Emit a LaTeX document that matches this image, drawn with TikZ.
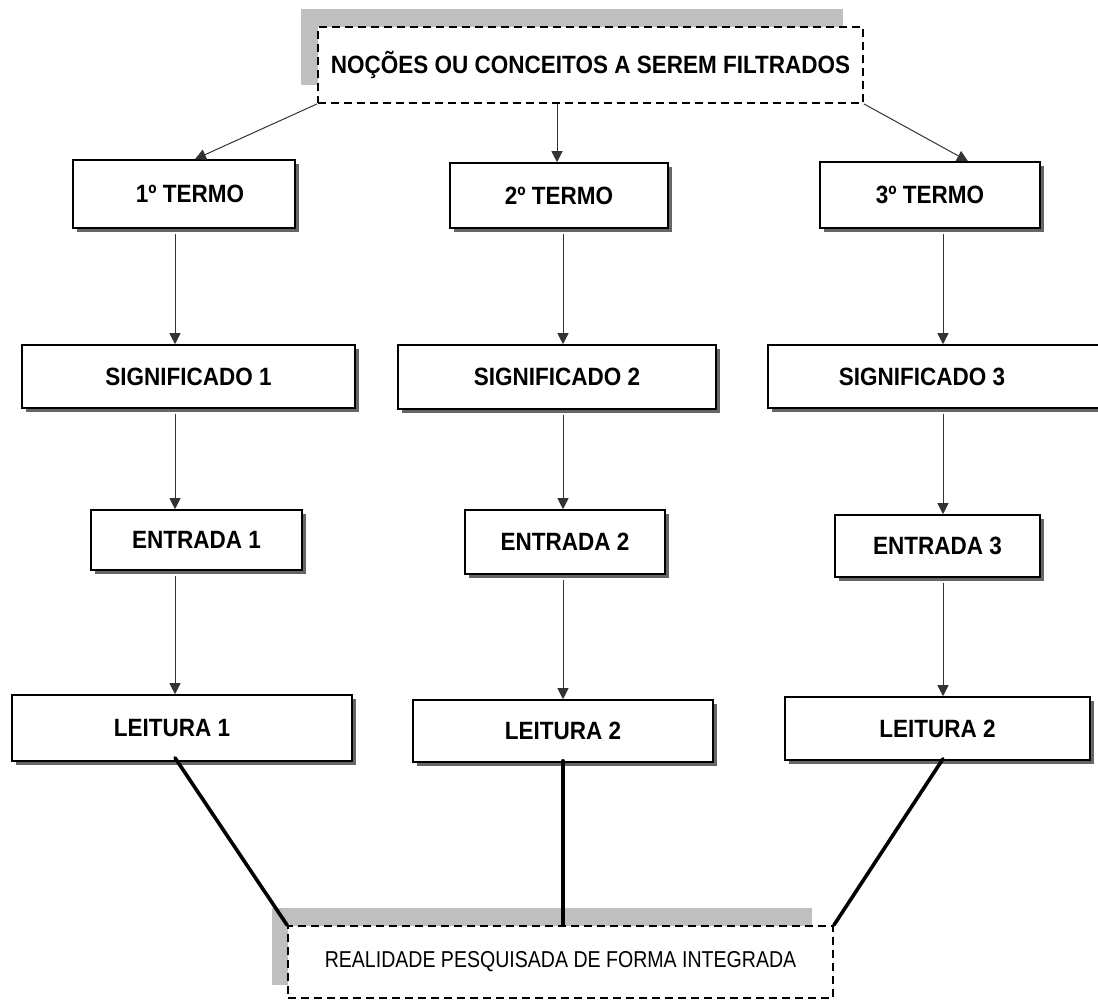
\documentclass[tikz,border=0pt]{standalone}
\usepackage{fontspec}
\setmainfont{Liberation Sans}
\newfontfamily\labelfont[FakeStretch=0.9]{Liberation Sans}
\newfontfamily\footfont[FakeStretch=0.85]{Liberation Sans}
\usetikzlibrary{arrows.meta,shadows}
\begin{document}
\begin{tikzpicture}[x=1pt,y=-1pt,
  box/.style={draw, line width=1.6pt, fill=white, inner sep=0pt,
    font=\labelfont\bfseries\fontsize{25}{28}\selectfont,
    drop shadow={shadow xshift=4pt, shadow yshift=-4pt, fill=black!60, opacity=1}},
  dbox/.style={draw, line width=1.8pt, fill=white, inner sep=0pt,
    dash pattern=on 8pt off 5pt},
  shade/.style={fill=black!25, draw=none},
  arr/.style={-{Triangle[length=11pt,width=11pt]}, line width=1pt, black!80},
  link/.style={line width=3.6pt, line cap=round}]
\useasboundingbox (0,0) rectangle (1098,1002);

% gray backing strips behind the dashed boxes
\fill[shade] (301,9) rectangle (843,85);
\fill[shade] (272,908) rectangle (812,985);

% dashed header and footer boxes
\node[dbox, minimum width=545pt, minimum height=76pt,
  font=\labelfont\bfseries\fontsize{25}{28}\selectfont] (top) at (590.5,65)
  {NOÇÕES OU CONCEITOS A SEREM FILTRADOS};
\node[dbox, minimum width=545pt, minimum height=72pt,
  font=\footfont\fontsize{23}{26}\selectfont] (bot) at (560.5,962)
  {REALIDADE PESQUISADA DE FORMA INTEGRADA};

% terms
\node[box, minimum width=222pt, minimum height=68pt] (t1) at (184,194) {\hspace*{12pt}1º TERMO};
\node[box, minimum width=218pt, minimum height=65pt] (t2) at (559,195.5) {2º TERMO};
\node[box, minimum width=220pt, minimum height=66pt] (t3) at (930,195) {3º TERMO};

% meanings
\node[box, minimum width=333pt, minimum height=63pt] (s1) at (188.5,376.5) {SIGNIFICADO 1};
\node[box, minimum width=318pt, minimum height=64pt] (s2) at (557,377) {SIGNIFICADO 2};
\node[box, minimum width=336pt, minimum height=63pt] (s3) at (936,376.5) {\hspace*{-28pt}SIGNIFICADO 3};

% entries
\node[box, minimum width=211pt, minimum height=60pt] (e1) at (196.5,540) {ENTRADA 1};
\node[box, minimum width=200pt, minimum height=64pt] (e2) at (565,542) {ENTRADA 2};
\node[box, minimum width=205pt, minimum height=62pt] (e3) at (937.5,546) {ENTRADA 3};

% readings
\node[box, minimum width=340pt, minimum height=66pt] (r1) at (182,728) {\hspace*{-20pt}LEITURA 1};
\node[box, minimum width=300pt, minimum height=62pt] (r2) at (563,731) {LEITURA 2};
\node[box, minimum width=305pt, minimum height=63pt] (r3) at (937.5,728.5) {LEITURA 2};

% column guides for the vertical arrows
\coordinate (c1) at (175,0);
\coordinate (c2) at (563,0);
\coordinate (c3) at (943,0);

% header to terms
\draw[arr] (top.south west) -- ([xshift=11pt]t1.north);
\draw[arr] (top.south -| 557,0) -- (t2.north -| 557,0);
\draw[arr] (top.south east) -- ([xshift=38pt]t3.north);

% column chains
\foreach \a/\b/\c in {t1/s1/c1, s1/e1/c1, e1/r1/c1,
                      t2/s2/c2, s2/e2/c2, e2/r2/c2,
                      t3/s3/c3, s3/e3/c3, e3/r3/c3}
  \draw[arr, shorten <=5pt] (\a.south -| \c) -- (\b.north -| \c);

% readings joined into the footer
\draw[link] ([yshift=4pt]r1.south -| c1) -- (bot.north west);
\draw[link] ([yshift=2pt]r2.south -| c2) -- (bot.north -| c2);
\draw[link] ([yshift=2pt]r3.south -| c3) -- (bot.north east);
\end{tikzpicture}
\end{document}
